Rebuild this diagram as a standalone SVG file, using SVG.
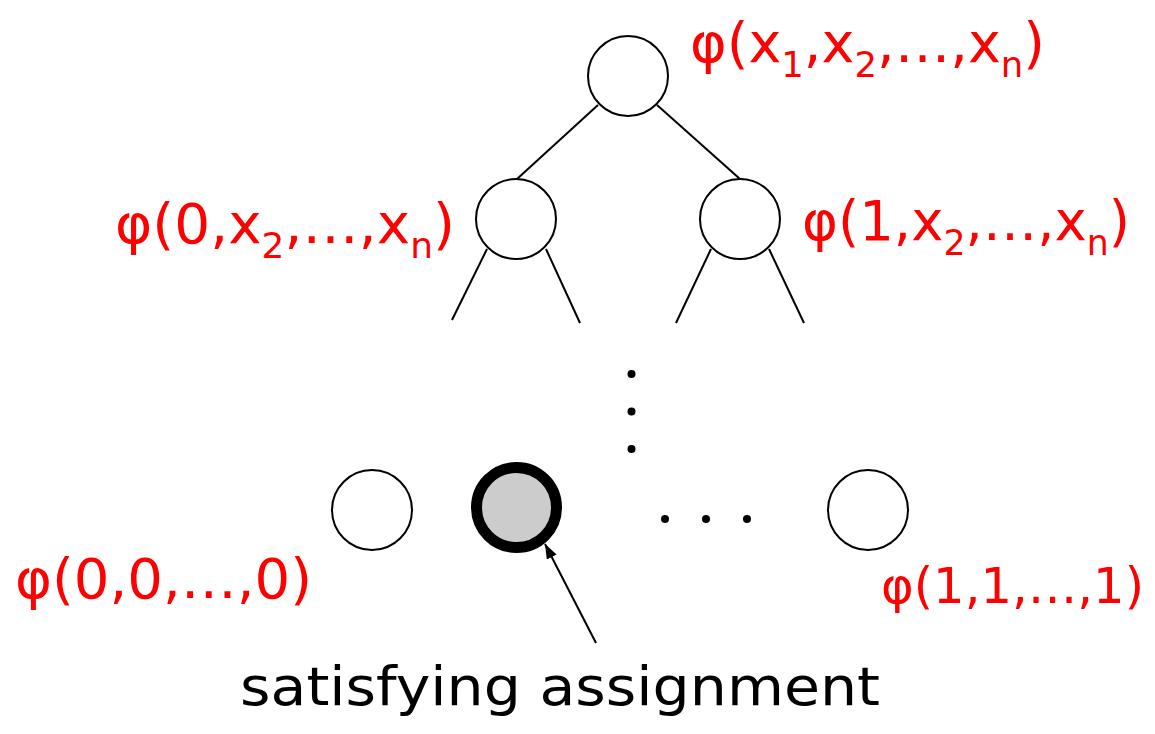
<svg xmlns="http://www.w3.org/2000/svg" width="1155" height="734" viewBox="0 0 1155 734">
<style>
.node{fill:#fff;stroke:#000;stroke-width:2}
.edge{stroke:#000;stroke-width:2;fill:none}
.lbl{fill:#ff0000;font-family:"Comic Sans MS","DejaVu Sans",sans-serif;font-size:55px}
.sub{font-size:35px}
.cap{fill:#000;font-family:"Comic Sans MS","DejaVu Sans",sans-serif;font-size:54px}
.dot{fill:#000}
</style>
<defs>
<marker id="ah2" viewBox="0 0 16 12" refX="16" refY="6" markerWidth="15" markerHeight="11" markerUnits="userSpaceOnUse" orient="auto">
<path d="M0,0 L16,6 L0,12 z" fill="#000"/>
</marker>
</defs>
<rect width="1155" height="734" fill="#fff"/>
<g id="connectors">
<line class="edge" x1="598" y1="105" x2="517" y2="179"/>
<line class="edge" x1="657" y1="105" x2="740" y2="179"/>
<line class="edge" x1="487" y1="249" x2="452" y2="320"/>
<line class="edge" x1="546" y1="249" x2="580" y2="323"/>
<line class="edge" x1="711" y1="249" x2="676" y2="323"/>
<line class="edge" x1="769" y1="249" x2="804" y2="323"/>
<line class="edge" x1="596" y1="643" x2="545" y2="544" marker-end="url(#ah2)"/>
</g>
<g id="root">
<circle class="node" cx="628" cy="76" r="40"/>
<text class="lbl" x="690" y="62" textLength="355" lengthAdjust="spacingAndGlyphs">φ(x<tspan class="sub" dy="15">1</tspan><tspan dy="-15">,x</tspan><tspan class="sub" dy="15">2</tspan><tspan dy="-15">,…,x</tspan><tspan class="sub" dy="15">n</tspan><tspan dy="-15">)</tspan></text>
</g>
<g id="left">
<circle class="node" cx="516" cy="219" r="40"/>
<text class="lbl" x="115" y="243" textLength="340" lengthAdjust="spacingAndGlyphs">φ(0,x<tspan class="sub" dy="15">2</tspan><tspan dy="-15">,…,x</tspan><tspan class="sub" dy="15">n</tspan><tspan dy="-15">)</tspan></text>
</g>
<g id="right">
<circle class="node" cx="740" cy="219" r="40"/>
<text class="lbl" x="802" y="240" textLength="328" lengthAdjust="spacingAndGlyphs">φ(1,x<tspan class="sub" dy="15">2</tspan><tspan dy="-15">,…,x</tspan><tspan class="sub" dy="15">n</tspan><tspan dy="-15">)</tspan></text>
</g>
<g id="vdots">
<circle class="dot" cx="631.5" cy="374" r="4"/>
<circle class="dot" cx="631.5" cy="411.5" r="4"/>
<circle class="dot" cx="631.5" cy="449" r="4"/>
</g>
<g id="leaf0">
<circle class="node" cx="372" cy="510" r="40"/>
<text class="lbl" x="15" y="598" textLength="297" lengthAdjust="spacingAndGlyphs">φ(0,0,…,0)</text>
</g>
<g id="leafsat">
<circle cx="516.5" cy="507.5" r="40" fill="#cccccc" stroke="#000" stroke-width="11"/>
</g>
<g id="hdots">
<circle class="dot" cx="665" cy="519" r="4"/>
<circle class="dot" cx="706" cy="519" r="4"/>
<circle class="dot" cx="747" cy="519" r="4"/>
</g>
<g id="leaf1">
<circle class="node" cx="868" cy="510" r="40"/>
<text class="lbl" x="881" y="603" textLength="263" lengthAdjust="spacingAndGlyphs" style="font-size:50px">φ(1,1,…,1)</text>
</g>
<g id="caption">
<text class="cap" x="240" y="705" textLength="640" lengthAdjust="spacingAndGlyphs">satisfying assignment</text>
</g>
</svg>
